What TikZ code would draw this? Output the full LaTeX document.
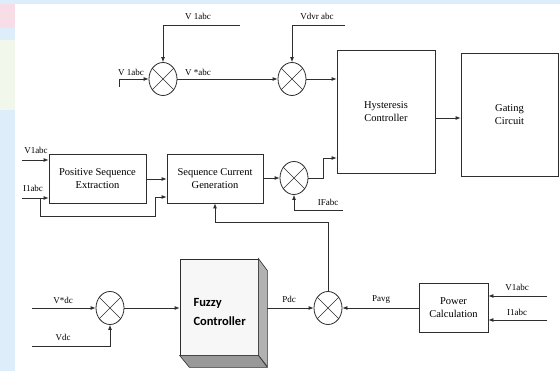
\documentclass[tikz,border=0pt]{standalone}
\usepackage{fontspec}
\setmainfont{Liberation Serif}
\newfontfamily\fuzzyfont{Carlito}
\usetikzlibrary{arrows.meta,shapes.geometric,calc}
\definecolor{ln}{HTML}{2E2E2E}
\definecolor{bgblue}{HTML}{DDEEFA}
\definecolor{bgpink}{HTML}{F6DDE6}
\definecolor{bggreen}{HTML}{F1F7EA}
\tikzset{
  arr/.style={draw=ln, line width=0.8pt, -{Latex[length=5pt,width=4pt]}},
  ln/.style={draw=ln, line width=0.8pt},
  sumj/.style={ellipse, draw=ln, line width=0.8pt, minimum width=28pt, minimum height=33pt, inner sep=0pt},
  blk/.style={draw=ln, line width=0.8pt, fill=white, align=center, inner sep=1pt, font=\fontsize{10.5}{12.5}\selectfont},
  lbl/.style={font=\fontsize{9}{10}\selectfont, inner sep=0pt}
}
\newcommand{\crossit}[1]{\draw[ln,line width=0.6pt] (#1.45) -- (#1.225) (#1.135) -- (#1.315);}
\begin{document}
\begin{tikzpicture}[x=1pt,y=-1pt]
\useasboundingbox (0,0) rectangle (560,371);
\fill[white] (0,0) rectangle (560,371);
\fill[bgblue] (0,0) rectangle (560,4);
\fill[bgblue] (0,0) rectangle (15,371);
\fill[bgpink] (0,4) rectangle (15,28);
\fill[bggreen] (0,40) rectangle (15,110);

% summing junctions
\node[sumj] (s1) at (163,79) {};
\node[sumj] (s2) at (292,79) {};
\node[sumj] (s3) at (294,178) {};
\node[sumj] (s4) at (110,308) {};
\node[sumj] (s5) at (328,308) {};
\crossit{s1}\crossit{s2}\crossit{s3}\crossit{s4}\crossit{s5}

% blocks
\node[blk, minimum width=98pt, minimum height=123pt] (hc) at (386,111.5) {Hysteresis\\Controller};
\node[blk, minimum width=97pt, minimum height=123pt] (gc) at (509.5,114.5) {Gating\\Circuit};
\node[blk, minimum width=97pt, minimum height=49pt] (pse) at (97.5,178.5) {Positive Sequence\\Extraction};
\node[blk, minimum width=96pt, minimum height=49pt] (scg) at (215,178.5) {Sequence Current\\Generation};
\node[blk, minimum width=69pt, minimum height=49pt] (pc) at (453.5,307.5) {Power\\Calculation};

% fuzzy controller (3D box)
\coordinate (fzr) at (267,308);
\draw[arr] (fzr) -- (s5.west);
\node[draw=ln, line width=0.8pt, fill=gray!6, minimum width=78pt, minimum height=96pt, inner sep=0pt] (fz) at (219,307) {};
\filldraw[draw=ln, line width=0.6pt, fill=gray!60] (fz.north east) -- ++(9,12) -- ++(0,96) -- (fz.south east) -- cycle;
\filldraw[draw=ln, line width=0.6pt, fill=gray!80] (fz.south west) -- (fz.south east) -- ++(9,12) -- ++(-78,0) -- cycle;
\node[anchor=west, align=left, font=\fuzzyfont\bfseries\fontsize{12.5}{19}\selectfont] (fzt) at (190,312) {Fuzzy\\Controller};

% coordinates for free ends
\coordinate (a1) at (119,87);
\coordinate (t1) at (240,25);
\coordinate (t2) at (345,25);
\coordinate (p1) at (22,160);
\coordinate (p2) at (22,198);
\coordinate (b1) at (40,198);
\coordinate (b2) at (40,216);
\coordinate (b3) at (155,216);
\coordinate (b4) at (155,197);
\coordinate (c1) at (323,178);
\coordinate (c2) at (323,158);
\coordinate (if) at (343,210);
\coordinate (f1) at (328,222);
\coordinate (v1) at (32,308);
\coordinate (v2) at (32,346);
\coordinate (q1) at (547,296);
\coordinate (q2) at (547,320);

% top row
\draw[arr] (a1) |- (s1.west);
\draw[arr] (t1) -| (s1.north);
\draw[arr] (s1.east) -- (s2.west);
\draw[arr] (t2) -| (s2.north);
\draw[arr] (s2.east) -- (s2.east -| hc.west);
\draw[arr] (hc.east |- 0,118) -- (gc.west |- 0,118);

% middle row
\draw[arr] (p1) -- (p1 -| pse.west);
\draw[arr] (p2) -- (p2 -| pse.west);
\draw[arr] (b1) -- (b2) -- (b3) -- (b4) -- (b4 -| scg.west);
\draw[arr] (pse.east |- 0,179) -- (scg.west |- 0,179);
\draw[arr] (scg.east |- s3) -- (s3.west);
\draw[arr] (s3.east) -- (c1) -- (c2) -- (c2 -| hc.west);
\draw[arr] (if) -| (s3.south);
\draw[arr] (s5.north) -- (f1) -| (scg.south);

% bottom row
\draw[arr] (v1) -- (s4.west);
\draw[arr] (v2) -| (s4.south);
\draw[arr] (s4.east) -- (s4.east -| fz.west);
\draw[arr] (pc.west |- s5) -- (s5.east);
\draw[arr] (q1) -- (q1 -| pc.east);
\draw[arr] (q2) -- (q2 -| pc.east);

% labels
\node[lbl] (l1) at (131,72) {V 1abc};
\node[lbl] (l2) at (198,16) {V 1abc};
\node[lbl] (l3) at (198,72) {V *abc};
\node[lbl] (l4) at (317,16) {Vdvr abc};
\node[lbl] (l5) at (36,150) {V1abc};
\node[lbl] (l6) at (33,188) {I1abc};
\node[lbl] (l7) at (328,202) {IFabc};
\node[lbl] (l8) at (63,300) {V*dc};
\node[lbl] (l9) at (63,337) {Vdc};
\node[lbl] (l10) at (289,299) {Pdc};
\node[lbl] (l11) at (381,300) {Pavg};
\node[lbl] (l12) at (517,287) {V1abc};
\node[lbl] (l13) at (517,312) {I1abc};
\end{tikzpicture}
\end{document}
